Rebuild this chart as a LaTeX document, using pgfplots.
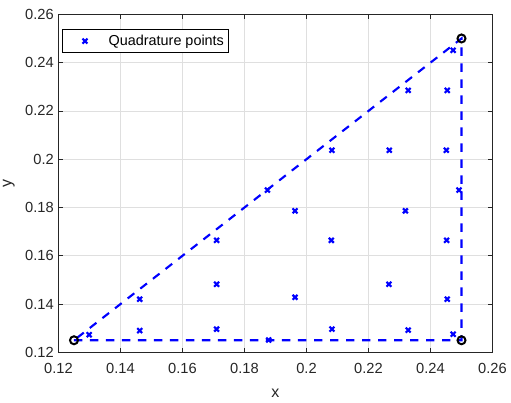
\documentclass[border=0pt]{standalone}
\usepackage{fontspec}
\setmainfont{Liberation Sans}
\usepackage{pgfplots}
\pgfplotsset{compat=1.18}
\definecolor{axgray}{RGB}{38,38,38}
\definecolor{gridgray}{RGB}{223,223,223}
\begin{document}
\begin{tikzpicture}
\path[use as bounding box] (-43.875pt,-38.0pt) rectangle (339.375pt,264.25pt);
\begin{axis}[
  at={(0,0)}, anchor=south west,
  scale only axis, width=325.5pt, height=253.5pt,
  xmin=0.12, xmax=0.26, ymin=0.12, ymax=0.26,
  xtick={0.12,0.14,0.16,0.18,0.2,0.22,0.24,0.26},
  ytick={0.12,0.14,0.16,0.18,0.2,0.22,0.24,0.26},
  xticklabels={0.12,0.14,0.16,0.18,0.2,0.22,0.24,0.26},
  yticklabels={0.12,0.14,0.16,0.18,0.2,0.22,0.24,0.26},
  tick align=inside, major tick length=3.5pt,
  grid=major, major grid style={gridgray, line width=0.5pt},
  axis line style={axgray, line width=0.5pt},
  tick style={axgray, line width=0.5pt},
  ticklabel style={font=\fontsize{11}{13}\selectfont, text=axgray},
  xticklabel style={yshift=-5pt},
  xlabel={x}, ylabel={y},
  xlabel style={yshift=-4.5pt},
  ylabel style={yshift=1pt},
  label style={font=\fontsize{12}{14}\selectfont, text=axgray},
  legend style={at={(0.007,0.956)}, anchor=north west, draw=black, line width=0.5pt,
    font=\fontsize{10.8}{12}\selectfont, inner xsep=1.5pt, inner ysep=2pt},
  legend cell align=left,
  legend image code/.code={\path (0pt,0pt) (30pt,0pt); \path[#1] plot coordinates {(15pt,0pt)};},
  clip=false,
]
\addplot[blue, line width=1.6pt, dash pattern=on 6.3pt off 5.7pt, forget plot] coordinates {
  (0.125,0.125) (0.25,0.125) (0.25,0.25) (0.125,0.125)};
\addplot[only marks, mark=x, mark size=2.6pt, blue, line width=1.6pt] coordinates {
  (0.1299,0.1273)
  (0.1462,0.1420) (0.1462,0.1290)
  (0.1710,0.1664) (0.1710,0.1482) (0.1710,0.1296)
  (0.1874,0.1872) (0.1878,0.1251)
  (0.1963,0.1786) (0.1963,0.1428)
  (0.2082,0.2037) (0.2080,0.1664) (0.2082,0.1296)
  (0.2267,0.2037) (0.2266,0.1482)
  (0.2328,0.2285) (0.2319,0.1786) (0.2328,0.1292)
  (0.2454,0.2285) (0.2451,0.2037) (0.2452,0.1664) (0.2454,0.1420)
  (0.2473,0.2451) (0.2473,0.1275)
  (0.2492,0.1872)
};
\addlegendentry{Quadrature points}
\addplot[only marks, mark=o, mark size=3pt, black, line width=1.5pt, forget plot] coordinates {
  (0.125,0.125) (0.25,0.125) (0.25,0.25)};
\end{axis}
\end{tikzpicture}
\end{document}
